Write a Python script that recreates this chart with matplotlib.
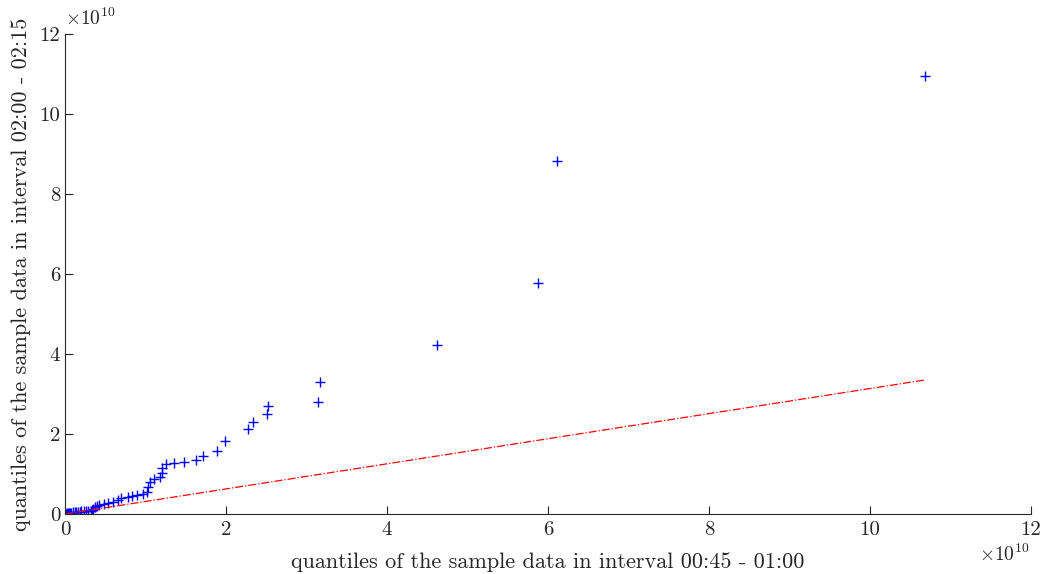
import numpy as np
import matplotlib
matplotlib.use('Agg')
import matplotlib.pyplot as plt
from matplotlib.ticker import FuncFormatter

# quantiles (units of 1e10)
qx = [0.00, 0.01, 0.02, 0.03, 0.04, 0.05, 0.06, 0.08, 0.10, 0.12, 0.14, 0.16, 0.18, 0.20,
      0.23, 0.26, 0.29, 0.32, 0.34, 0.35, 0.37, 0.40, 0.42, 0.48, 0.54, 0.60, 0.66, 0.70,
      0.78, 0.83, 0.89, 0.97, 1.02, 1.03, 1.05, 1.10, 1.18, 1.20, 1.21, 1.25, 1.35, 1.48,
      1.63, 1.72, 1.89, 1.99, 2.27, 2.34, 2.51, 2.52, 3.14, 3.17, 4.62, 5.88, 6.11, 10.68]
qy = [0.000, 0.005, 0.010, 0.015, 0.020, 0.025, 0.030, 0.035, 0.040, 0.045, 0.050, 0.055,
      0.060, 0.065, 0.070, 0.075, 0.080, 0.085, 0.090, 0.13, 0.18, 0.21, 0.23, 0.25, 0.28,
      0.31, 0.35, 0.39, 0.43, 0.46, 0.48, 0.50, 0.56, 0.68, 0.81, 0.87, 0.92, 1.03, 1.14,
      1.24, 1.27, 1.29, 1.35, 1.45, 1.57, 1.83, 2.13, 2.30, 2.51, 2.69, 2.80, 3.30, 4.22,
      5.78, 8.83, 10.95]
# reference line end points
line_x = [0.0, 10.68]
line_y = [0.0, 3.35]
ticks = [0, 2, 4, 6, 8, 10, 12]

scale = 1e10
qx = np.array(qx) * scale
qy = np.array(qy) * scale
line_x = np.array(line_x) * scale
line_y = np.array(line_y) * scale

plt.rcParams['font.family'] = 'serif'
plt.rcParams['font.serif'] = ['cmr10']
plt.rcParams['mathtext.fontset'] = 'cm'
plt.rcParams['axes.unicode_minus'] = False

fig = plt.figure(figsize=(10.42, 5.74), dpi=100)
ax = fig.add_axes([0.0624, 0.1045, 0.927, 0.8363])

ax.plot(qx, qy, '+', color='#0000ff', markersize=7, markeredgewidth=1.0)
ax.plot(line_x, line_y, '-.', color='#ff0000', linewidth=0.9)

ax.set_xlim(0, 12e10)
ax.set_ylim(0, 12e10)
ax.set_xticks(np.array(ticks) * scale)
ax.set_yticks(np.array(ticks) * scale)
fmt = FuncFormatter(lambda v, p: '%d' % round(v / scale))
ax.xaxis.set_major_formatter(fmt)
ax.yaxis.set_major_formatter(fmt)

ax.spines['top'].set_visible(False)
ax.spines['right'].set_visible(False)
for s in ['left', 'bottom']:
    ax.spines[s].set_color('#262626')
    ax.spines[s].set_linewidth(0.8)
ax.tick_params(direction='in', length=6, width=0.8, colors='#262626', labelsize=15)
ax.tick_params(axis='x', pad=5)

# exponent labels
ax.text(0.0, 1.01, r'$\times10^{10}$', transform=ax.transAxes, fontsize=14,
        color='#262626', ha='left', va='bottom')
ax.text(0.998, -0.062, r'$\times10^{10}$', transform=ax.transAxes, fontsize=14,
        color='#262626', ha='right', va='top')

ax.set_xlabel('quantiles of the sample data in interval 00:45 - 01:00', fontsize=16,
              color='#262626', labelpad=10)
ax.set_ylabel('quantiles of the sample data in interval 02:00 - 02:15', fontsize=16,
              color='#262626', labelpad=6)

fig.savefig('out.png', dpi=100)
